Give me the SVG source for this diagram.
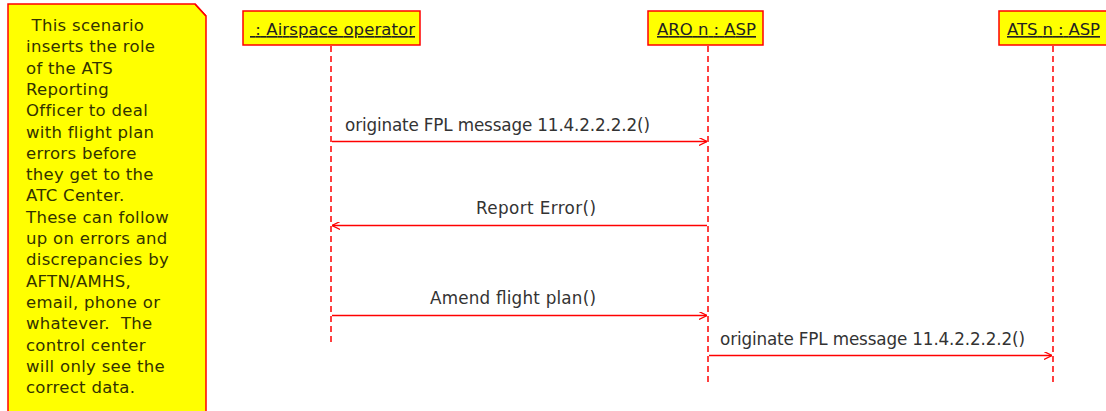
<svg xmlns="http://www.w3.org/2000/svg" width="1106" height="411" viewBox="0 0 1106 411">
<defs>
<style>
.box{fill:#ffff00;stroke:#ff0000;stroke-width:1.5}
.t{font-family:"DejaVu Sans","Noto Sans",sans-serif;font-size:16.8px;fill:#333333}
.n{font-family:"DejaVu Sans","Noto Sans",sans-serif;font-size:16.5px;letter-spacing:0.3px;fill:#333300}
.h{font-family:"DejaVu Sans","Noto Sans",sans-serif;font-size:16.5px;fill:#222222;text-decoration:underline}
.life{stroke:#ff0000;stroke-width:1.5;stroke-dasharray:6,4;fill:none}
.msg{stroke:#ff0000;stroke-width:1.3;fill:none}
</style>
<marker id="arr" viewBox="0 0 10 10" refX="10" refY="5" markerWidth="8" markerHeight="8" markerUnits="userSpaceOnUse" orient="auto">
<path d="M0,0 L10,5 L0,10" fill="none" stroke="#ff0000" stroke-width="1.5"/>
</marker>
</defs>
<rect width="1106" height="411" fill="#ffffff"/>
<g id="note">
<path class="box" d="M8,4 L195,4 L206,16 L206,420 L8,420 Z"/>
<path d="M195,4 L206,16" fill="none" stroke="#ff0000" stroke-width="1.5"/>
<text class="n" x="26" y="31" xml:space="preserve"><tspan x="26" dy="0"> This scenario</tspan><tspan x="26" dy="21.3">inserts the role</tspan><tspan x="26" dy="21.3">of the ATS</tspan><tspan x="26" dy="21.3">Reporting</tspan><tspan x="26" dy="21.3">Officer to deal</tspan><tspan x="26" dy="21.3">with flight plan</tspan><tspan x="26" dy="21.3">errors before</tspan><tspan x="26" dy="21.3">they get to the</tspan><tspan x="26" dy="21.3">ATC Center.</tspan><tspan x="26" dy="21.3">These can follow</tspan><tspan x="26" dy="21.3">up on errors and</tspan><tspan x="26" dy="21.3">discrepancies by</tspan><tspan x="26" dy="21.3">AFTN/AMHS,</tspan><tspan x="26" dy="21.3">email, phone or</tspan><tspan x="26" dy="21.3">whatever.  The</tspan><tspan x="26" dy="21.3">control center</tspan><tspan x="26" dy="21.3">will only see the</tspan><tspan x="26" dy="21.3">correct data.</tspan></text>
</g>
<g id="airspace-operator">
<rect class="box" x="243" y="11" width="177" height="34"/>
<text class="h" x="250" y="35" textLength="165" xml:space="preserve"> : Airspace operator</text>
</g>
<g id="aro">
<rect class="box" x="648" y="11" width="115" height="34"/>
<text class="h" x="657" y="35" textLength="99">ARO n : ASP</text>
</g>
<g id="ats">
<rect class="box" x="999" y="11" width="110" height="34"/>
<text class="h" x="1007" y="35" textLength="93">ATS n : ASP</text>
</g>
<g id="connectors">
<line class="life" x1="331" y1="46" x2="331" y2="346"/>
<line class="life" x1="708" y1="46" x2="708" y2="386"/>
<line class="life" x1="1053" y1="46" x2="1053" y2="386"/>
<line class="msg" x1="332" y1="141.5" x2="707" y2="141.5" marker-end="url(#arr)"/>
<text class="t" x="345" y="131" textLength="305">originate FPL message 11.4.2.2.2.2()</text>
<line class="msg" x1="707" y1="225.5" x2="332" y2="225.5" marker-end="url(#arr)"/>
<text class="t" x="476" y="214" textLength="120">Report Error()</text>
<line class="msg" x1="332" y1="315.5" x2="707" y2="315.5" marker-end="url(#arr)"/>
<text class="t" x="430" y="304" textLength="166">Amend flight plan()</text>
<line class="msg" x1="709" y1="355.5" x2="1052" y2="355.5" marker-end="url(#arr)"/>
<text class="t" x="720" y="345" textLength="305">originate FPL message 11.4.2.2.2.2()</text>
</g>
</svg>
